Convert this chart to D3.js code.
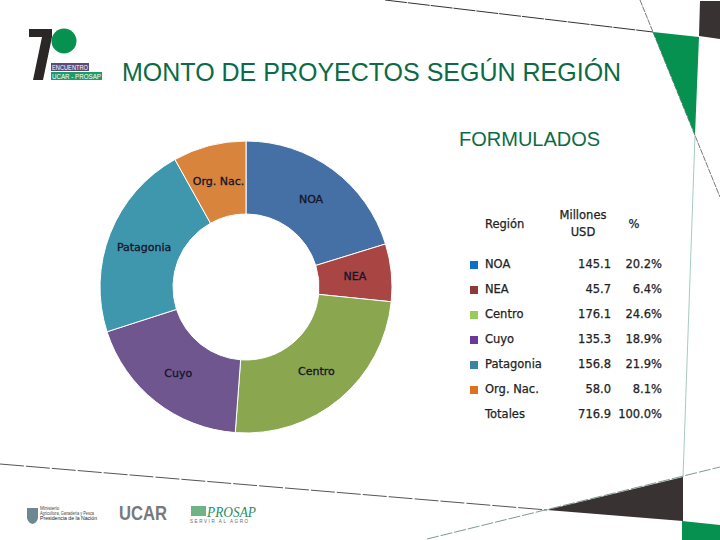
<!DOCTYPE html>
<html>
<head>
<meta charset="utf-8">
<script src="https://cdn.jsdelivr.net/npm/d3@7"></script>
<style>
html, body { margin: 0; padding: 0; background: #fff; }
svg { display: block; }
</style>
</head>
<body>
<svg id="chart" width="720" height="540"></svg>
<script>
var regions = ["NOA", "NEA", "Centro", "Cuyo", "Patagonia", "Org. Nac."];
var montos = [145.1, 45.7, 176.1, 135.3, 156.8, 58.0];
var montoLabels = ["145.1", "45.7", "176.1", "135.3", "156.8", "58.0"];
var pctLabels = ["20.2%", "6.4%", "24.6%", "18.9%", "21.9%", "8.1%"];
var sliceColors = ["#4570a5", "#a94644", "#8aa64f", "#70568f", "#3f97ae", "#d9843d"];
var legendColors = ["#0f6fc6", "#8e3a3a", "#98cb5c", "#6a3a98", "#3a86a0", "#e0701c"];
var totalLabels = ["Totales", "716.9", "100.0%"];

var svg = d3.select("#chart");
var labelFont = "'DejaVu Sans', sans-serif";
var green = "#0c6b46";

// background decoration
var deco = svg.append("g");
var poly = function(points, fill) {
    deco.append("polygon").attr("points", points).attr("fill", fill);
};
var line = function(x1, y1, x2, y2, color, w, dash) {
    var l = deco.append("line")
        .attr("x1", x1).attr("y1", y1).attr("x2", x2).attr("y2", y2)
        .attr("stroke", color).attr("stroke-width", w);
    if (dash) l.attr("stroke-dasharray", dash);
};
line(385, 0, 653, 32, "#333", 1, "22 1");
line(640, 0, 720, 197, "#555", 0.8, "6 1");
line(695, 135, 683, 477, "#8fbfa8", 0.8);
line(0, 464, 547, 510, "#555", 1, "24 2");
line(427, 539, 720, 467, "#7f9a90", 1, "12 2");
poly("653,32 699,37 695,135", "#079150");
poly("700,1 720,1 720,39 699,36", "#383232");
poly("547,510 683,477 683,521", "#383232");
poly("682,521 720,525 720,540 682,540", "#079150");

// logo
deco.append("polygon").attr("points", "29,29 52,29 52,37 43,80 33,80 42,37 29,37").attr("fill", "#2b2727");
deco.append("circle").attr("cx", 64).attr("cy", 41).attr("r", 12.5).attr("fill", "#079150");
deco.append("rect").attr("x", 51).attr("y", 63).attr("width", 38).attr("height", 8).attr("fill", "#5b4a78");
deco.append("rect").attr("x", 51).attr("y", 72).attr("width", 51).attr("height", 8).attr("fill", "#1f9a6b");
var smallText = function(str, x, y, size, fill, extra) {
    var t = deco.append("text").attr("x", x).attr("y", y)
        .attr("font-family", "'Liberation Sans', sans-serif")
        .attr("font-size", size).attr("fill", fill).text(str);
    if (extra) extra(t);
    return t;
};
smallText("ENCUENTRO", 52, 70, 7.5, "#fff", function(t) { t.attr("textLength", 36).attr("lengthAdjust", "spacingAndGlyphs"); });
smallText("UCAR - PROSAP", 52, 79, 7.5, "#fff", function(t) { t.attr("textLength", 49).attr("lengthAdjust", "spacingAndGlyphs"); });

// footer logos
deco.append("path").attr("d", "M27,508 h11 v10 q-1,5 -5.5,6 q-4.5,-1 -5.5,-6 z").attr("fill", "#6f8791");
smallText("Ministerio", 40, 510, 4.5, "#444");
smallText("Agricultura, Ganadería y Pesca", 40, 514.5, 4.5, "#444", function(t) { t.attr("textLength", 54).attr("lengthAdjust", "spacingAndGlyphs"); });
smallText("Presidencia de la Nación", 40, 520, 6, "#222", function(t) { t.attr("textLength", 57).attr("lengthAdjust", "spacingAndGlyphs"); });
smallText("UCAR", 119, 520, 20, "#77797c", function(t) { t.attr("font-weight", "bold").attr("textLength", 48).attr("lengthAdjust", "spacingAndGlyphs"); });
deco.append("rect").attr("x", 191).attr("y", 506).attr("width", 15).attr("height", 10).attr("fill", "#3f9a5f").attr("opacity", 0.75);
deco.append("text").attr("x", 207).attr("y", 517)
    .attr("font-family", "'Liberation Serif', serif").attr("font-style", "italic")
    .attr("font-size", 15).attr("fill", "#1f8f5f").attr("textLength", 49)
    .attr("lengthAdjust", "spacingAndGlyphs").text("PROSAP");
smallText("SERVIR AL AGRO", 190, 523, 4.5, "#666", function(t) { t.attr("textLength", 58); });

// titles
svg.append("text").attr("x", 122).attr("y", 81)
    .attr("font-family", "'Liberation Sans', sans-serif").attr("font-size", 25)
    .attr("fill", green).text("MONTO DE PROYECTOS SEGÚN REGIÓN");
svg.append("text").attr("x", 459).attr("y", 146)
    .attr("font-family", "'Liberation Sans', sans-serif").attr("font-size", 20)
    .attr("fill", green).text("FORMULADOS");

// donut
var pieData = d3.pie().sort(null)(montos);
var arc = d3.arc().innerRadius(73).outerRadius(146);
var donut = svg.append("g").attr("transform", "translate(246,287)");
donut.selectAll("path").data(pieData).enter().append("path")
    .attr("d", arc)
    .attr("fill", function(d, i) { return sliceColors[i]; })
    .attr("stroke", "#fff").attr("stroke-width", 1);

donut.selectAll("text").data(pieData).enter().append("text")
    .attr("transform", function(d) { return "translate(" + arc.centroid(d) + ")"; })
    .attr("text-anchor", "middle").attr("dy", "0.35em")
    .attr("font-family", labelFont).attr("font-size", 11)
    .attr("fill", "#14142a").attr("stroke", "#14142a").attr("stroke-width", 0.3)
    .text(function(d, i) { return regions[i]; });

// table
var rowY = d3.scalePoint().domain(regions.concat([totalLabels[0]])).range([264, 414]);
var table = svg.append("g")
    .attr("font-family", labelFont).attr("font-size", 11.5)
    .attr("fill", "#222").attr("stroke", "#222").attr("stroke-width", 0.25);

table.append("text").attr("x", 485).attr("y", 224).attr("dy", "0.35em").text("Región");
table.append("text").attr("x", 583).attr("y", 215).attr("dy", "0.35em").attr("text-anchor", "middle").text("Millones");
table.append("text").attr("x", 583).attr("y", 232).attr("dy", "0.35em").attr("text-anchor", "middle").text("USD");
table.append("text").attr("x", 634).attr("y", 224).attr("dy", "0.35em").attr("text-anchor", "middle").text("%");

var rows = table.selectAll("g.row").data(regions).enter().append("g").attr("class", "row")
    .attr("transform", function(d) { return "translate(0," + rowY(d) + ")"; });
rows.append("rect").attr("x", 470).attr("y", -3).attr("width", 8).attr("height", 8).attr("stroke", "none")
    .attr("fill", function(d, i) { return legendColors[i]; });
rows.append("text").attr("x", 485).attr("dy", "0.35em").text(function(d) { return d; });
rows.append("text").attr("x", 611).attr("dy", "0.35em").attr("text-anchor", "end")
    .text(function(d, i) { return montoLabels[i]; });
rows.append("text").attr("x", 662).attr("dy", "0.35em").attr("text-anchor", "end")
    .text(function(d, i) { return pctLabels[i]; });

var totalRow = table.append("g").attr("transform", "translate(0," + rowY(totalLabels[0]) + ")");
totalRow.append("text").attr("x", 485).attr("dy", "0.35em").text(totalLabels[0]);
totalRow.append("text").attr("x", 611).attr("dy", "0.35em").attr("text-anchor", "end").text(totalLabels[1]);
totalRow.append("text").attr("x", 662).attr("dy", "0.35em").attr("text-anchor", "end").text(totalLabels[2]);
</script>
</body>
</html>
